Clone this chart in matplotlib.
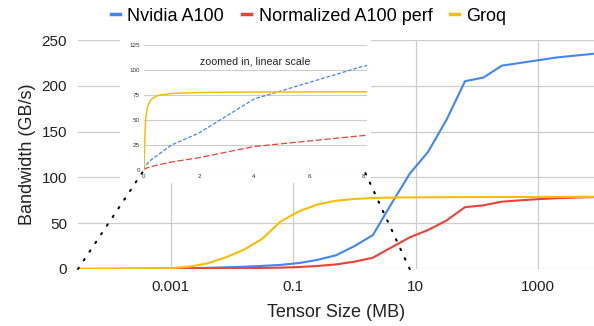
import matplotlib
matplotlib.use('Agg')
import matplotlib.pyplot as plt
from matplotlib.patches import Rectangle, ConnectionPatch

plt.rcParams['font.family'] = ['Liberation Sans', 'DejaVu Sans']

# Tensor sizes in MB (powers of two)
sizes_mb = [0.0000305, 0.000061, 0.000122, 0.000244, 0.000488, 0.000977, 0.00195,
            0.0039, 0.0078, 0.0156, 0.03125, 0.0625, 0.125, 0.25, 0.5, 1, 2, 4, 8,
            16, 32, 64, 128, 256, 512, 1024, 2048, 4096, 8192]

# Bandwidth in GB/s
nvidia_a100 = [0.1, 0.15, 0.2, 0.3, 0.45, 0.65, 0.9, 1.3, 1.8, 2.5, 3.4, 4.5, 6.5,
               10, 15, 25, 37, 71, 104, 128, 163, 205, 209, 222, 225, 228, 231, 233, 235]
normalized_a100 = [0.03, 0.05, 0.07, 0.1, 0.15, 0.22, 0.3, 0.45, 0.6, 0.85, 1.15, 1.5, 2.2,
                   3.3, 5, 8, 12.3, 23.5, 34.5, 42.6, 53, 67.5, 69.5, 73.5, 75, 76.3, 77.3, 78, 78.5]
groq = [0.05, 0.1, 0.15, 0.3, 0.5, 0.9, 2.5, 6, 12.5, 21, 33, 52, 63,
        70.5, 74.5, 76.5, 77.5, 78, 78.2, 78.3, 78.4, 78.5, 78.5, 78.6, 78.6, 78.7, 78.7, 78.8, 78.8]

series_names = ['Nvidia A100', 'Normalized A100 perf', 'Groq']
colors = ['#4285F4', '#EA4335', '#FBBC04']

main_xticks = [0.001, 0.1, 10, 1000]
main_xticklabels = ['0.001', '0.1', '10', '1000']
main_yticks = [0, 50, 100, 150, 200, 250]
inset_xticks = [0, 2, 4, 6, 8]
inset_yticks = [0, 25, 50, 75, 100, 125]
inset_max_mb = 8

fig = plt.figure(figsize=(5.94, 3.26), dpi=100)
ax = fig.add_axes([78 / 594, 1 - 269 / 326, 516 / 594, 229 / 326])

all_series = [nvidia_a100, normalized_a100, groq]
for vals, name, c in zip(all_series, series_names, colors):
    ax.plot(sizes_mb, vals, color=c, lw=1.5, label=name, zorder=3)

ax.set_xscale('log')
ax.set_xlim(sizes_mb[0], sizes_mb[-1])
ax.set_ylim(0, 250)
ax.set_xticks(main_xticks)
ax.set_xticklabels(main_xticklabels)
ax.minorticks_off()
ax.set_yticks(main_yticks)
ax.tick_params(length=0, labelsize=11, pad=8, colors='#222222')
ax.grid(True, color='#cccccc', lw=0.9)
for s in ax.spines.values():
    s.set_visible(False)
ax.set_xlabel('Tensor Size (MB)', fontsize=13, labelpad=7, color='#222222')
ax.set_ylabel('Bandwidth (GB/s)', fontsize=13, labelpad=4, color='#222222')

leg = fig.legend(loc='center', bbox_to_anchor=(0.52, 0.95), ncol=3, frameon=False,
                 fontsize=13, handlelength=0.5, handletextpad=0.4, columnspacing=1.0)
for line in leg.get_lines():
    line.set_linewidth(2.5)

# white box behind the zoomed inset
box = Rectangle((120 / 594, 1 - 183 / 326), 251 / 594, 153 / 326,
                transform=fig.transFigure, facecolor='white', edgecolor='none', zorder=1)
fig.add_artist(box)

ins = fig.add_axes([144 / 594, 1 - 170 / 326, 222.75 / 594, 125 / 326])
ins.set_zorder(2)
ins.set_facecolor('none')
ins.plot(sizes_mb, nvidia_a100, color=colors[0], lw=0.9, ls=(0, (3, 1.5)))
ins.plot(sizes_mb, normalized_a100, color=colors[1], lw=0.9, ls=(0, (5, 2)))
ins.plot(sizes_mb, groq, color=colors[2], lw=1.1)
ins.set_xlim(0, 8.1)
ins.set_ylim(0, 125)
ins.set_xticks(inset_xticks)
ins.set_yticks(inset_yticks)
ins.tick_params(length=0, labelsize=4.5, pad=3, colors='#333333')
ins.grid(True, axis='y', color='#cccccc', lw=0.8)
for s in ins.spines.values():
    s.set_visible(False)
ins.text(0.5, 0.87, 'zoomed in, linear scale', transform=ins.transAxes,
         ha='center', va='center', fontsize=7.7, color='#222222')

# dotted zoom indicators
for xa, xb in [(sizes_mb[0], 0), (inset_max_mb, inset_max_mb)]:
    con = ConnectionPatch(xyA=(xa, 0), coordsA=ax.transData, xyB=(xb, 0), coordsB=ins.transData,
                          color='black', lw=1.5, ls=(0, (0.7, 4.3)), zorder=4)
    fig.add_artist(con)

fig.savefig('out.png', dpi=100)
